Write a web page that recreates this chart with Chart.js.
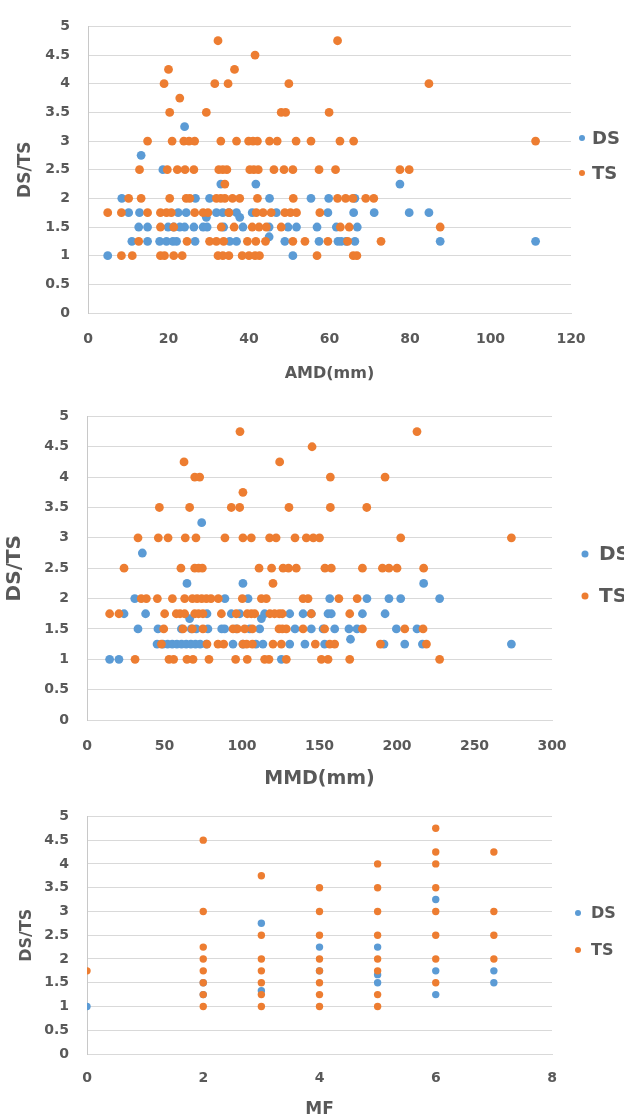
<!DOCTYPE html>
<html><head><meta charset="utf-8">
<script src="https://cdn.jsdelivr.net/npm/chart.js@4.4.0/dist/chart.umd.min.js"></script>
<style>
html,body{margin:0;padding:0;background:#fff;}
#wrap{position:relative;width:624px;height:1120px;}
canvas{position:absolute;left:0;}
</style></head><body>
<div id="wrap">
<canvas id="c1" width="624" height="390" style="top:0"></canvas>
<canvas id="c2" width="624" height="400" style="top:390px"></canvas>
<canvas id="c3" width="624" height="330" style="top:790px"></canvas>
</div>
<script>
// ---- Data: [x, DS/TS] pairs ----
const seriesNames = ["DS", "TS"];
const yTicks = [0, 0.5, 1, 1.5, 2, 2.5, 3, 3.5, 4, 4.5, 5];

const amdDS = [
  [24,3.25],[13.2,2.75],[18.6,2.5],[33,2.25],[41.7,2.25],[77.5,2.25],
  [8.4,2],[26.7,2],[30.2,2],[45.1,2],[55.4,2],[59.8,2],[66.3,2],
  [10.1,1.75],[12.8,1.75],[22.4,1.75],[24.4,1.75],[31.9,1.75],[33.5,1.75],[35,1.75],[36.9,1.75],[40.8,1.75],[46.8,1.75],[59.6,1.75],[66,1.75],[71.1,1.75],[79.8,1.75],[84.7,1.75],
  [29.4,1.67],[37.7,1.67],
  [12.6,1.5],[14.8,1.5],[19.9,1.5],[21.3,1.5],[22.8,1.5],[24,1.5],[26.3,1.5],[28.6,1.5],[29.6,1.5],[33.7,1.5],[38.5,1.5],[45,1.5],[49.7,1.5],[51.8,1.5],[56.9,1.5],[61.7,1.5],[66.9,1.5],
  [45,1.33],
  [10.9,1.25],[14.8,1.25],[17.8,1.25],[19.5,1.25],[21.1,1.25],[22,1.25],[26.6,1.25],[35.2,1.25],[36.9,1.25],[48.9,1.25],[57.4,1.25],[62.1,1.25],[62.9,1.25],[64.1,1.25],[66.3,1.25],[87.5,1.25],[111.2,1.25],
  [4.9,1],[50.9,1]
];
const amdTS = [
  [32.3,4.75],[62,4.75],[41.5,4.5],[20,4.25],[36.4,4.25],
  [18.9,4],[31.5,4],[34.8,4],[49.9,4],[84.7,4],[22.8,3.75],
  [20.3,3.5],[29.4,3.5],[48,3.5],[49.1,3.5],[59.9,3.5],
  [14.8,3],[20.9,3],[23.8,3],[25.1,3],[26.5,3],[33,3],[36.9,3],[39.9,3],[41,3],[42.1,3],[45.1,3],[47,3],[51.7,3],[55.4,3],[62.6,3],[66,3],[111.2,3],
  [12.8,2.5],[19.7,2.5],[22.2,2.5],[24.1,2.5],[26.3,2.5],[32.5,2.5],[33.5,2.5],[34.5,2.5],[40.2,2.5],[41.2,2.5],[42.3,2.5],[46.2,2.5],[48.7,2.5],[50.9,2.5],[57.4,2.5],[61.5,2.5],[77.5,2.5],[79.8,2.5],
  [34,2.25],
  [10.1,2],[13.2,2],[20.3,2],[24.4,2],[25.3,2],[31.9,2],[33,2],[34,2],[35.9,2],[37.7,2],[42.1,2],[51,2],[62,2],[64,2],[65.8,2],[69,2],[71,2],
  [4.9,1.75],[8.3,1.75],[14.8,1.75],[18,1.75],[19.5,1.75],[20.7,1.75],[26.5,1.75],[28.6,1.75],[29.8,1.75],[35,1.75],[41.8,1.75],[43.5,1.75],[45.5,1.75],[48.9,1.75],[50.3,1.75],[51.8,1.75],[57.6,1.75],
  [18,1.5],[21.3,1.5],[33.1,1.5],[36.3,1.5],[40.8,1.5],[42.5,1.5],[44.3,1.5],[48,1.5],[62.7,1.5],[64.9,1.5],[87.5,1.5],
  [12.6,1.25],[24.6,1.25],[30.2,1.25],[31.9,1.25],[33.7,1.25],[39.6,1.25],[41.7,1.25],[44.1,1.25],[50.9,1.25],[53.9,1.25],[59.6,1.25],[64.5,1.25],[72.8,1.25],
  [8.3,1],[11,1],[18,1],[19,1],[21.3,1],[23.4,1],[32.3,1],[33.5,1],[35,1],[38.3,1],[40,1],[41.5,1],[42.6,1],[56.9,1],[65.9,1],[66.8,1]
];

const mmdDS = [
  [74,3.25],[35.7,2.75],[64.5,2.25],[100.6,2.25],[217.2,2.25],
  [30.8,2],[89,2],[103.9,2],[156.6,2],[180.6,2],[194.8,2],[202.4,2],[227.5,2],
  [23.9,1.75],[37.8,1.75],[77.4,1.75],[93.1,1.75],[98.5,1.75],[114.6,1.75],[130.8,1.75],[139.4,1.75],[144.7,1.75],[155.5,1.75],[157.6,1.75],[177.7,1.75],[192.3,1.75],
  [66.2,1.67],[112.5,1.67],
  [32.9,1.5],[45.8,1.5],[60.9,1.5],[67.3,1.5],[70.5,1.5],[78,1.5],[86.9,1.5],[88.8,1.5],[96.3,1.5],[105,1.5],[111.4,1.5],[134.2,1.5],[144.7,1.5],[152.3,1.5],[159.8,1.5],[169,1.5],[174.2,1.5],[199.6,1.5],[212.9,1.5],
  [170,1.33],
  [45.2,1.25],[49,1.25],[52,1.25],[55,1.25],[58,1.25],[61,1.25],[64,1.25],[67,1.25],[70,1.25],[73,1.25],[77,1.25],[94.2,1.25],[100.6,1.25],[109,1.25],[113.5,1.25],[130.8,1.25],[140.6,1.25],[153.3,1.25],[191.6,1.25],[205,1.25],[216.4,1.25],[273.8,1.25],
  [14.6,1],[20.6,1],[125.4,1]
];
const mmdTS = [
  [98.7,4.75],[212.9,4.75],[145.2,4.5],[62.6,4.25],[124.3,4.25],
  [69.5,4],[72.7,4],[157,4],[192.3,4],[100.6,3.75],
  [46.7,3.5],[66.2,3.5],[93.1,3.5],[98.5,3.5],[130.3,3.5],[157,3.5],[180.5,3.5],
  [32.9,3],[46,3],[52.3,3],[63.4,3],[70.3,3],[89,3],[100.6,3],[106,3],[117.8,3],[122,3],[134.2,3],[141.5,3],[146,3],[150,3],[202.4,3],[273.8,3],
  [23.9,2.5],[60.6,2.5],[69.5,2.5],[72,2.5],[74.4,2.5],[111,2.5],[119.1,2.5],[126.5,2.5],[130,2.5],[135,2.5],[153.5,2.5],[157.6,2.5],[177.7,2.5],[190.6,2.5],[194.8,2.5],[200,2.5],[217.2,2.5],
  [120,2.25],
  [35,2],[38.3,2],[45.4,2],[55.1,2],[63,2],[68,2],[71,2],[74,2],[77,2],[80,2],[84.7,2],[100.2,2],[112.5,2],[115.7,2],[139.4,2],[142.6,2],[162.5,2],[174.3,2],
  [14.6,1.75],[20.6,1.75],[50.1,1.75],[57.6,1.75],[60,1.75],[63,1.75],[69.5,1.75],[72,1.75],[74.8,1.75],[86.7,1.75],[96.3,1.75],[103.4,1.75],[106,1.75],[108.2,1.75],[118,1.75],[121,1.75],[124,1.75],[126,1.75],[144.7,1.75],[169.5,1.75],
  [49.5,1.5],[61.9,1.5],[68,1.5],[74.8,1.5],[94.2,1.5],[97,1.5],[101.7,1.5],[106.7,1.5],[123.9,1.5],[126,1.5],[128.6,1.5],[139.4,1.5],[153.3,1.5],[177.7,1.5],[205,1.5],[216.8,1.5],
  [48,1.25],[77.4,1.25],[84.5,1.25],[88.2,1.25],[100.6,1.25],[103,1.25],[106.7,1.25],[120,1.25],[125.4,1.25],[147.3,1.25],[156.6,1.25],[159.8,1.25],[189.3,1.25],[219,1.25],
  [31,1],[52.9,1],[55.9,1],[64.5,1],[68.4,1],[78.7,1],[95.9,1],[103.4,1],[114.6,1],[117.4,1],[128.6,1],[151.2,1],[155.5,1],[169.5,1],[227.5,1]
];

const mfDS = [
  [0,1],[2,1.5],[2,1.25],[3,2.75],[3,1.33],[4,2.25],[4,1.75],
  [5,2.25],[5,1.67],[5,1.5],[6,3.25],[6,1.75],[6,1.25],[7,1.75],[7,1.5]
];
const mfTS = [
  [0,1.75],
  [2,4.5],[2,3],[2,2.25],[2,2],[2,1.75],[2,1.5],[2,1.25],[2,1],
  [3,3.75],[3,2.5],[3,2],[3,1.75],[3,1.5],[3,1.25],[3,1],
  [4,3.5],[4,3],[4,2.5],[4,2],[4,1.75],[4,1.5],[4,1.25],[4,1],
  [5,4],[5,3.5],[5,3],[5,2.5],[5,2],[5,1.75],[5,1.25],[5,1],
  [6,4.75],[6,4.25],[6,4],[6,3.5],[6,3],[6,2.5],[6,2],[6,1.5],
  [7,4.25],[7,3],[7,2.5],[7,2]
];

const amdTicks = [0, 20, 40, 60, 80, 100, 120];
const mmdTicks = [0, 50, 100, 150, 200, 250, 300];
const mfTicks = [0, 2, 4, 6, 8];

// ---- Styling ----
const BLUE = '#5B9BD5', ORANGE = '#ED7D31', TXT = '#595959';
const FONT = '"DejaVu Sans", sans-serif';

const sideLegend = {
  id: 'sideLegend',
  afterDraw(chart, args, o) {
    const ctx = chart.ctx;
    ctx.save();
    chart.data.datasets.forEach((ds, i) => {
      const y = o.ys[i];
      ctx.beginPath();
      ctx.arc(o.x, y, o.r, 0, Math.PI * 2);
      ctx.fillStyle = ds.backgroundColor;
      ctx.fill();
      ctx.font = 'bold ' + o.size + 'px ' + FONT;
      ctx.fillStyle = TXT;
      ctx.textBaseline = 'middle';
      ctx.textAlign = 'left';
      ctx.fillText(ds.label, o.textX, y + 1);
    });
    ctx.restore();
  }
};

const toPts = arr => arr.map(p => ({x: p[0], y: p[1]}));

function makeChart(id, c) {
  new Chart(document.getElementById(id), {
    type: 'scatter',
    data: {
      datasets: [
        {label: seriesNames[0], data: toPts(c.ds), backgroundColor: BLUE, borderWidth: 0, pointRadius: c.r, pointHoverRadius: c.r, order: 1},
        {label: seriesNames[1], data: toPts(c.ts), backgroundColor: ORANGE, borderWidth: 0, pointRadius: c.r, pointHoverRadius: c.r, order: 0}
      ]
    },
    options: {
      responsive: false, animation: false, devicePixelRatio: 1,
      layout: {padding: {top: c.padTop, right: c.padRight, bottom: 0, left: 0}},
      plugins: {legend: {display: false}, tooltip: {enabled: false}, sideLegend: c.legend},
      scales: {
        x: {
          type: 'linear', min: c.xTicks[0], max: c.xTicks[c.xTicks.length - 1],
          afterBuildTicks: s => { s.ticks = c.xTicks.map(v => ({value: v})); },
          afterFit: s => { s.height = c.xAxisH; },
          grid: {display: false, drawTicks: false},
          border: {display: true, color: '#d9d9d9', width: 1},
          ticks: {color: TXT, font: {family: FONT, size: 14, weight: 'bold'}, padding: c.xTickPad, autoSkip: false, maxRotation: 0, callback: v => String(v)},
          title: {display: true, text: c.xTitle, color: TXT, font: {family: FONT, size: c.xTitleSize, weight: 'bold'}, padding: {top: 0, bottom: c.xTitlePad}}
        },
        y: {
          type: 'linear', min: 0, max: 5,
          afterBuildTicks: s => { s.ticks = yTicks.map(v => ({value: v})); },
          afterFit: s => { s.width = c.yAxisW; },
          grid: {color: '#d9d9d9', drawTicks: false},
          border: {display: true, color: '#c8c8c8', width: 1},
          ticks: {color: TXT, font: {family: FONT, size: 14, weight: 'bold'}, padding: 18, autoSkip: false, callback: v => String(v)},
          title: {display: true, text: 'DS/TS', color: TXT, font: {family: FONT, size: c.yTitleSize, weight: 'bold'}, padding: {top: c.yTitlePad, bottom: 0}}
        }
      }
    },
    plugins: [sideLegend]
  });
}

makeChart('c1', {ds: amdDS, ts: amdTS, xTicks: amdTicks, xTitle: 'AMD(mm)', r: 4.4,
  padTop: 13, padRight: 53, yAxisW: 88, xAxisH: 77, xTickPad: 18, xTitleSize: 16, xTitlePad: 7,
  yTitleSize: 17, yTitlePad: 15,
  legend: {x: 582, ys: [138, 173], r: 3, textX: 592, size: 18}});

makeChart('c2', {ds: mmdDS, ts: mmdTS, xTicks: mmdTicks, xTitle: 'MMD(mm)', r: 4.4,
  padTop: 13, padRight: 72, yAxisW: 87, xAxisH: 70, xTickPad: 18, xTitleSize: 19, xTitlePad: 0,
  yTitleSize: 20, yTitlePad: 3,
  legend: {x: 585, ys: [164, 206], r: 3.5, textX: 599, size: 20}});

makeChart('c3', {ds: mfDS, ts: mfTS, xTicks: mfTicks, xTitle: 'MF', r: 3.7,
  padTop: 14, padRight: 72, yAxisW: 87, xAxisH: 66, xTickPad: 16, xTitleSize: 17, xTitlePad: 0,
  yTitleSize: 16, yTitlePad: 17,
  legend: {x: 578, ys: [123, 160], r: 3, textX: 591, size: 16}});
</script>
</body></html>
